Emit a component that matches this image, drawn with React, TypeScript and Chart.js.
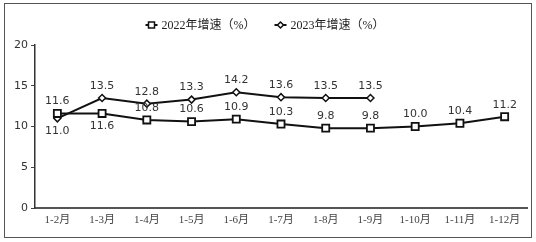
import React, { useEffect, useRef } from 'react';
import { Chart, registerables } from 'chart.js';

Chart.register(...registerables);

const categories = ['1-2月', '1-3月', '1-4月', '1-5月', '1-6月', '1-7月', '1-8月', '1-9月', '1-10月', '1-11月', '1-12月'];
const growth2022 = [11.6, 11.6, 10.8, 10.6, 10.9, 10.3, 9.8, 9.8, 10.0, 10.4, 11.2];
const growth2023 = [11.0, 13.5, 12.8, 13.3, 14.2, 13.6, 13.5, 13.5, null, null, null];
const seriesNames = ['2022年增速（%）', '2023年增速（%）'];
const yMin = 0;
const yMax = 20;
const yStep = 5;

const SANS = '"DejaVu Sans", Verdana, sans-serif';
const SERIF = '"Liberation Serif", "Noto Sans CJK SC", serif';
const LINE = '#111111';

// which point labels sit below their marker (dataset index -> point indexes)
const labelsBelow: Record<number, number[]> = { 0: [1], 1: [0] };

const valueLabelPlugin = {
  id: 'valueLabels',
  afterDatasetsDraw(chart: any) {
    const ctx = chart.ctx;
    ctx.save();
    ctx.font = `11px ${SANS}`;
    ctx.fillStyle = '#333333';
    ctx.textAlign = 'center';
    ctx.textBaseline = 'middle';
    chart.data.datasets.forEach((ds: any, di: number) => {
      const meta = chart.getDatasetMeta(di);
      meta.data.forEach((pt: any, i: number) => {
        const v = ds.data[i];
        if (v === null || v === undefined) return;
        const below = (labelsBelow[di] || []).includes(i);
        ctx.fillText(Number(v).toFixed(1), pt.x, pt.y + (below ? 13 : -12));
      });
    });
    ctx.restore();
  },
};

const legendPlugin = {
  id: 'customLegend',
  afterDraw(chart: any) {
    const ctx = chart.ctx;
    ctx.save();
    ctx.font = `12px ${SERIF}`;
    const markW = 12;
    const gapMark = 4;
    const gapItem = 19;
    const widths = seriesNames.map((n) => ctx.measureText(n).width);
    const total = widths.reduce((a, w) => a + markW + gapMark + w, 0) + gapItem * (seriesNames.length - 1);
    let x = 265 - total / 2;
    const y = 25;
    chart.data.datasets.forEach((ds: any, di: number) => {
      ctx.strokeStyle = LINE;
      ctx.lineWidth = 2;
      ctx.beginPath();
      ctx.moveTo(x, y);
      ctx.lineTo(x + markW, y);
      ctx.stroke();
      ctx.fillStyle = '#ffffff';
      ctx.lineWidth = 1.5;
      const cx = x + markW / 2;
      ctx.beginPath();
      if (ds.pointStyle === 'rect') {
        ctx.rect(cx - 3, y - 3, 6, 6);
      } else {
        ctx.moveTo(cx, y - 3);
        ctx.lineTo(cx + 3, y);
        ctx.lineTo(cx, y + 3);
        ctx.lineTo(cx - 3, y);
        ctx.closePath();
      }
      ctx.fill();
      ctx.stroke();
      ctx.fillStyle = '#222222';
      ctx.textAlign = 'left';
      ctx.textBaseline = 'middle';
      ctx.fillText(seriesNames[di], x + markW + gapMark, y + 1);
      x += markW + gapMark + widths[di] + gapItem;
    });
    ctx.restore();
  },
};

export default function App() {
  const canvasRef = useRef<HTMLCanvasElement | null>(null);

  useEffect(() => {
    const canvas = canvasRef.current;
    if (!canvas) return;
    const chart = new Chart(canvas, {
      type: 'line',
      data: {
        labels: categories,
        datasets: [
          {
            label: seriesNames[0],
            data: growth2022,
            borderColor: LINE,
            borderWidth: 2,
            pointStyle: 'rect',
            pointRadius: 5,
            pointBorderWidth: 1.8,
            pointBackgroundColor: '#ffffff',
            pointBorderColor: LINE,
            tension: 0,
          },
          {
            label: seriesNames[1],
            data: growth2023,
            borderColor: LINE,
            borderWidth: 2,
            pointStyle: 'rectRot',
            pointRadius: 3.5,
            pointBorderWidth: 1.5,
            pointBackgroundColor: '#ffffff',
            pointBorderColor: LINE,
            tension: 0,
            spanGaps: false,
          },
        ],
      },
      options: {
        responsive: false,
        animation: false,
        devicePixelRatio: 1,
        layout: { padding: { left: 0, right: 9, top: 45, bottom: 0 } },
        plugins: {
          legend: { display: false },
          tooltip: { enabled: false },
          title: { display: false },
        },
        scales: {
          x: {
            offset: true,
            grid: { display: false, drawTicks: false },
            border: { display: true, color: '#555555', width: 2 },
            ticks: {
              font: { family: SERIF, size: 11 },
              color: '#444444',
              padding: 6,
              autoSkip: false,
              maxRotation: 0,
            },
            afterFit: (s: any) => {
              s.height = 34;
            },
          },
          y: {
            min: yMin,
            max: yMax,
            ticks: {
              stepSize: yStep,
              font: { family: SANS, size: 11 },
              color: '#333333',
              padding: 3,
            },
            grid: { drawOnChartArea: false, drawTicks: true, tickLength: 4, color: '#444444' },
            border: { display: true, color: '#333333', width: 1.5 },
            afterFit: (s: any) => {
              s.width = 35;
            },
          },
        },
      },
      plugins: [valueLabelPlugin, legendPlugin],
    });
    return () => chart.destroy();
  }, []);

  return (
    <div style={{ position: 'fixed', left: 0, top: 0, width: 536, height: 242, background: '#ffffff' }}>
      <div
        style={{
          position: 'absolute',
          left: 4,
          top: 3,
          width: 528,
          height: 235,
          border: '1px solid #555555',
          boxSizing: 'border-box',
        }}
      />
      <canvas ref={canvasRef} width={536} height={242} style={{ position: 'absolute', left: 0, top: 0 }} />
    </div>
  );
}
